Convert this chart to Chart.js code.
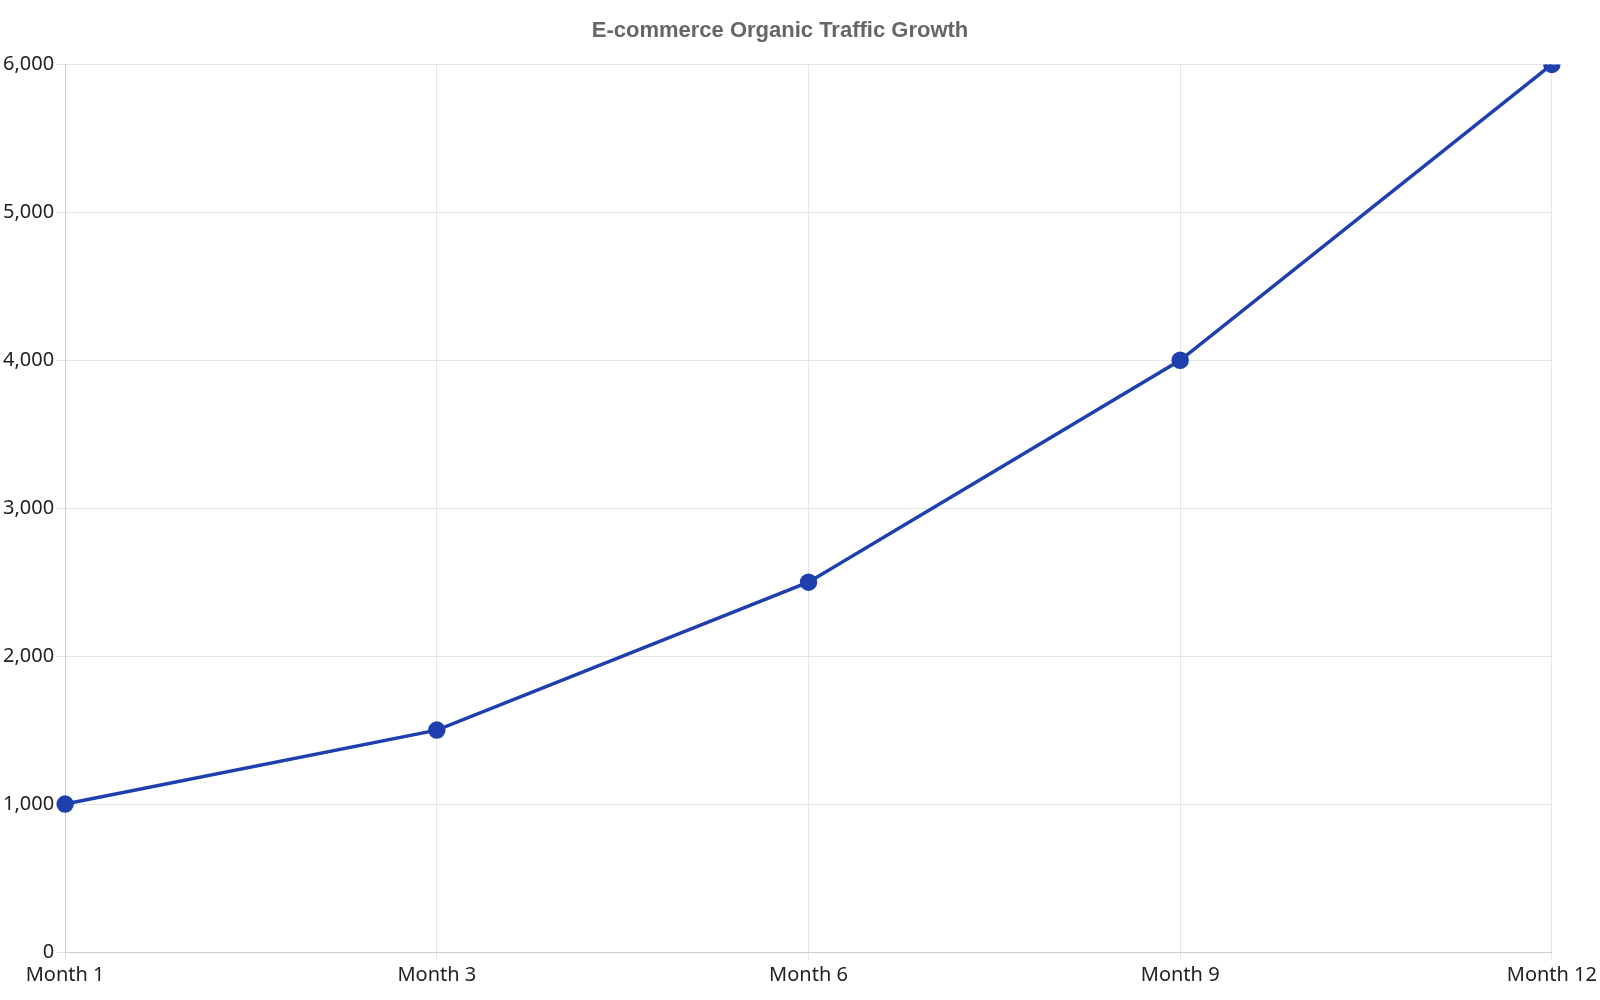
<!DOCTYPE html>
<html><head><meta charset="utf-8">
<script src="https://cdn.jsdelivr.net/npm/chart.js@4"></script>
<style>html,body{margin:0;background:#fff}#w{width:1600px;height:1000px}</style>
</head><body><div id="w"><canvas id="c"></canvas></div>
<script>
const categories = ["Month 1","Month 3","Month 6","Month 9","Month 12"];
const traffic = [1000,1500,2500,4000,6000];
const yTicks = [0,1000,2000,3000,4000,5000,6000];
new Chart(document.getElementById('c'),{
  type:'line',
  data:{labels:categories,datasets:[{label:'Organic Traffic',data:traffic,borderColor:'#1e40af',backgroundColor:'#1e40af',borderWidth:3.5,pointRadius:7,pointHoverRadius:7,tension:0}]},
  options:{responsive:true,maintainAspectRatio:false,animation:false,
    layout:{padding:{left:0,right:40,top:10,bottom:10}},
    plugins:{legend:{display:false},
      title:{display:true,text:'E-commerce Organic Traffic Growth',color:'#666',font:{family:'Liberation Sans',size:22,weight:'bold'},padding:{top:8,bottom:20}}},
    scales:{
      x:{grid:{color:'#e5e5e5',tickLength:8},border:{color:'#ccc'},ticks:{color:'#222',font:{family:'Noto Sans',size:20},maxRotation:0}},
      y:{min:0,max:6000,afterBuildTicks:a=>{a.ticks=yTicks.map(v=>({value:v}));},grid:{color:'#e5e5e5',tickLength:8},border:{color:'#ccc'},
        ticks:{color:'#222',font:{family:'Noto Sans',size:20},callback:v=>v.toLocaleString('en-US')}}
    }}
});
</script></body></html>
